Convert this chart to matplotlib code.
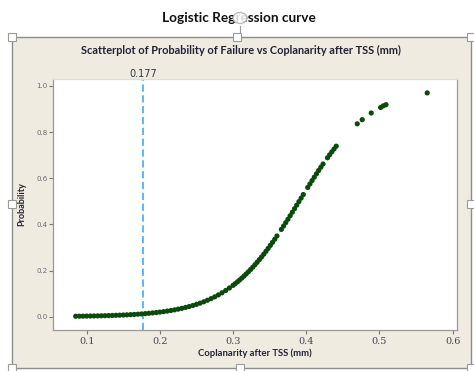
import matplotlib
matplotlib.use("Agg")
import matplotlib.pyplot as plt
from matplotlib.patches import Rectangle, Circle
from matplotlib.lines import Line2D

# ---- data ----
coplanarity = [
    0.085, 0.090, 0.095, 0.100, 0.105, 0.110, 0.115, 0.120, 0.125, 0.130,
    0.135, 0.140, 0.145, 0.150, 0.155, 0.160, 0.165, 0.170, 0.175, 0.180,
    0.185, 0.190, 0.195, 0.200, 0.205, 0.210, 0.215, 0.220, 0.225, 0.230,
    0.235, 0.240, 0.245, 0.250, 0.255, 0.260, 0.265, 0.270, 0.275, 0.280,
    0.285, 0.290, 0.295, 0.300,
    0.303, 0.306, 0.309, 0.312, 0.315, 0.318, 0.321, 0.324, 0.327, 0.330,
    0.333, 0.336, 0.339, 0.342, 0.345, 0.348, 0.351, 0.354, 0.357, 0.360,
    0.366, 0.369, 0.372, 0.375, 0.378, 0.381, 0.384, 0.387, 0.390,
    0.393, 0.396, 0.402, 0.405, 0.408, 0.411, 0.414, 0.417, 0.420,
    0.423, 0.429, 0.432, 0.435, 0.438, 0.441,
    0.4697, 0.4765, 0.4888, 0.5016, 0.5053, 0.509, 0.5653,
]
probability = [
    0.0019, 0.0021, 0.0023, 0.0026, 0.0029, 0.0032, 0.0035, 0.0039, 0.0043, 0.0048,
    0.0053, 0.0059, 0.0065, 0.0072, 0.0080, 0.0088, 0.0098, 0.0108, 0.0120, 0.0133,
    0.0147, 0.0162, 0.0179, 0.0198, 0.0219, 0.0242, 0.0268, 0.0296, 0.0327, 0.0361,
    0.0398, 0.0439, 0.0484, 0.0534, 0.0588, 0.0647, 0.0712, 0.0783, 0.0860, 0.0944,
    0.1036, 0.1135, 0.1243, 0.1359,
    0.1433, 0.1510, 0.1590, 0.1674, 0.1762, 0.1853, 0.1947, 0.2046, 0.2148, 0.2253,
    0.2362, 0.2475, 0.2592, 0.2711, 0.2834, 0.2961, 0.3090, 0.3223, 0.3359, 0.3498,
    0.3783, 0.3928, 0.4076, 0.4225, 0.4376, 0.4528, 0.4680, 0.4834, 0.4987,
    0.5141, 0.5295, 0.5600, 0.5750, 0.5900, 0.6048, 0.6194, 0.6338, 0.6479,
    0.6618, 0.6888, 0.7018, 0.7145, 0.7269, 0.7390,
    0.836, 0.854, 0.883, 0.907, 0.914, 0.919, 0.970,
]
threshold = 0.177
x_ticks = [0.1, 0.2, 0.3, 0.4, 0.5, 0.6]
y_ticks = [0.0, 0.2, 0.4, 0.6, 0.8, 1.0]

W, H = 474, 371
fig = plt.figure(figsize=(W / 100, H / 100), dpi=100)
fig.patch.set_facecolor("white")

def fx(px):
    return px / W

def fy(py):
    return 1 - py / H

# beige panel (behind everything)
panel = Rectangle((fx(12), fy(368)), fx(471) - fx(12), fy(37) - fy(368),
                  transform=fig.transFigure, facecolor="#efebe1",
                  edgecolor="#8c8c8c", linewidth=1.0, zorder=-10)
fig.patches.append(panel)

# titles
fig.text(fx(239), fy(18), "Logistic Regression curve", ha="center", va="center",
         fontsize=9.8, fontweight="bold", family="Lato", color="#111111")
fig.text(fx(241), fy(50), "Scatterplot of Probability of Failure vs Coplanarity after TSS (mm)",
         ha="center", va="center", fontsize=7.9, fontweight="bold", family="Lato",
         color="#222233")

# axes
ax = fig.add_axes([fx(53), fy(330), fx(457) - fx(53), fy(79) - fy(330)], zorder=1)
ax.set_facecolor("white")
ax.scatter(coplanarity, probability, s=14, color="#0a4a0a", edgecolors="none", zorder=3)
ax.axvline(threshold, color="#55b0f0", linestyle=(0, (4, 2)), linewidth=1.3, zorder=2)
ax.set_xlim(0.054, 0.606)
ax.set_ylim(-0.0577, 1.0303)
ax.set_xticks(x_ticks)
ax.set_xticklabels([f"{v:.1f}" for v in x_ticks])
ax.set_yticks(y_ticks)
ax.set_yticklabels([f"{v:.1f}" for v in y_ticks])
for sp in ax.spines.values():
    sp.set_color("#9a9a9a")
    sp.set_linewidth(0.9)
ax.spines["top"].set_color("#dddddd")
ax.tick_params(axis="x", length=3, width=0.8, color="#777777", labelsize=7,
               labelcolor="#444455", pad=2)
ax.tick_params(axis="y", length=3, width=0.8, color="#777777", labelsize=5,
               labelcolor="#666677", pad=1)
for lab in ax.get_xticklabels():
    lab.set_family("DejaVu Serif")
ax.set_xlabel("Coplanarity after TSS (mm)", fontsize=6.8, fontweight="bold",
              family="Lato", color="#222233", labelpad=2)
ax.set_ylabel("Probability", fontsize=6.5, fontweight="bold", family="Lato",
              color="#222233")
ax.yaxis.set_label_coords(-0.066, 0.5)
ax.text(threshold, 1.0303, "0.177", transform=ax.transData, ha="center", va="bottom",
        fontsize=7, color="#333344", family="DejaVu Sans")

# selection handles
for hx, hy in [(12, 37), (237, 37), (471, 37), (12, 204), (471, 204),
               (12, 368), (240, 368), (471, 368)]:
    fig.patches.append(Rectangle((fx(hx - 4), fy(hy + 4)), fx(8), 8 / H,
                                 transform=fig.transFigure, facecolor="white",
                                 edgecolor="#9a9a9a", linewidth=0.8, zorder=5))
fig.lines.append(Line2D([fx(240), fx(240)], [fy(33), fy(26)],
                        transform=fig.transFigure, color="#9a9a9a",
                        linewidth=0.8, zorder=5))
fig.patches.append(Circle((fx(240), fy(18)), 7 / W, transform=fig.transFigure,
                          facecolor="white", edgecolor="#b0b0b0", linewidth=1.0,
                          alpha=0.85, zorder=6))

fig.savefig("out.png", dpi=100)
